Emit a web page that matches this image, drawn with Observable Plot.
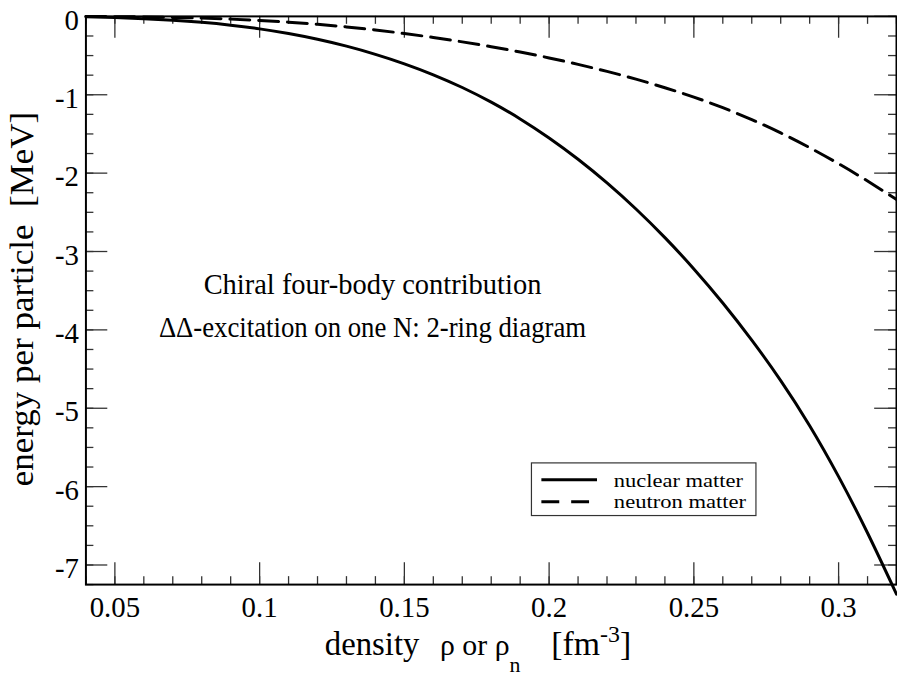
<!DOCTYPE html>
<html><head><meta charset="utf-8">
<script src="https://cdn.jsdelivr.net/npm/d3@7"></script>
<script src="https://cdn.jsdelivr.net/npm/@observablehq/plot@0.6"></script>
<style>
html,body{margin:0;padding:0;overflow:hidden;background:#fff;}
#chart svg text{white-space:pre;}
</style></head><body><div id="chart"></div>
<script>
// ---- data ----
const density = [0.04,0.05,0.06,0.07,0.08,0.09,0.10,0.11,0.12,0.13,0.14,0.15,0.16,0.17,0.18,0.19,0.20,0.21,0.22,0.23,0.24,0.25,0.26,0.27,0.28,0.29,0.30,0.31,0.32];
const nuclearMatter = [-0.005,-0.015,-0.029,-0.049,-0.076,-0.112,-0.159,-0.219,-0.292,-0.380,-0.484,-0.605,-0.745,-0.907,-1.094,-1.308,-1.551,-1.823,-2.125,-2.458,-2.823,-3.222,-3.657,-4.131,-4.647,-5.222,-5.872,-6.592,-7.372];
const neutronMatter = [-0.001,-0.003,-0.007,-0.013,-0.022,-0.035,-0.052,-0.074,-0.101,-0.134,-0.173,-0.219,-0.269,-0.325,-0.387,-0.455,-0.530,-0.612,-0.702,-0.801,-0.910,-1.030,-1.165,-1.317,-1.487,-1.675,-1.880,-2.101,-2.337];
const seriesNames = ["nuclear matter","neutron matter"];
const xMajorTicks = [0.05,0.1,0.15,0.2,0.25,0.3];
const xTickLabels = ["0.05","0.1","0.15","0.2","0.25","0.3"];
const xMinorTicks = [0.04,0.05,0.06,0.07,0.08,0.09,0.10,0.11,0.12,0.13,0.14,0.15,0.16,0.17,0.18,0.19,0.20,0.21,0.22,0.23,0.24,0.25,0.26,0.27,0.28,0.29,0.30,0.31,0.32];
const yMajorTicks = [0,-1,-2,-3,-4,-5,-6,-7];
const yTickLabels = ["0","-1","-2","-3","-4","-5","-6","-7"];
const yMinorTicks = [0,-0.25,-0.5,-0.75,-1,-1.25,-1.5,-1.75,-2,-2.25,-2.5,-2.75,-3,-3.25,-3.5,-3.75,-4,-4.25,-4.5,-4.75,-5,-5.25,-5.5,-5.75,-6,-6.25,-6.5,-6.75,-7,-7.25];

const nuclear = density.map((x,i)=>({x, y: nuclearMatter[i]}));
const neutron = density.map((x,i)=>({x, y: neutronMatter[i]}));
const xLab = new Map(xMajorTicks.map((d,i)=>[d,xTickLabels[i]]));
const yLab = new Map(yMajorTicks.map((d,i)=>[d,yTickLabels[i]]));

const W=903, H=679, mL=86, mR=1, mT=16, mB=91;
const pw = W-mL-mR, ph = H-mT-mB;
const font = "'Liberation Serif', 'Times New Roman', Times, serif";
const tick = {stroke:"#333", strokeOpacity:1, strokeWidth:1.3};

const chart = Plot.plot({
  width: W, height: H,
  marginLeft: mL, marginRight: mR, marginTop: mT, marginBottom: mB,
  style: `background:white;color:black;overflow:visible;`,
  x: {domain: [0.04, 0.32]},
  y: {domain: [-7.25, 0]},
  marks: [
    Plot.gridX(xMinorTicks, {...tick, insetTop: ph-8}),
    Plot.gridX(xMinorTicks, {...tick, insetBottom: ph-8}),
    Plot.gridX(xMajorTicks, {...tick, insetTop: ph-22}),
    Plot.gridX(xMajorTicks, {...tick, insetBottom: ph-22}),
    Plot.gridY(yMinorTicks, {...tick, insetLeft: pw-8}),
    Plot.gridY(yMinorTicks, {...tick, insetRight: pw-8}),
    Plot.gridY(yMajorTicks, {...tick, insetLeft: pw-22}),
    Plot.gridY(yMajorTicks, {...tick, insetRight: pw-22}),
    Plot.axisX(xMajorTicks, {tickSize:0, tickPadding:12, fontSize:29, tickFormat: d=>xLab.get(d), label:null}),
    Plot.axisY(yMajorTicks, {tickSize:0, tickPadding:7, fontSize:29, dy:4, tickFormat: d=>yLab.get(d), label:null}),
    Plot.line(nuclear, {x:"x", y:"y", stroke:"black", strokeWidth:3, curve:"natural"}),
    Plot.line(neutron, {x:"x", y:"y", stroke:"black", strokeWidth:3, strokeDasharray:"20,9", curve:"natural"}),
    Plot.frame({stroke:"black", strokeWidth:2})
  ]
});
document.getElementById("chart").appendChild(chart);

const svg = d3.select(chart);
const g = svg.append("g").attr("fill","black").attr("text-anchor","start");

// annotation
g.append("text").attr("x",205).attr("y",296).attr("font-size",29)
  .attr("textLength",340).attr("lengthAdjust","spacingAndGlyphs").text("Chiral four-body contribution");
g.append("text").attr("x",160).attr("y",339).attr("font-size",29)
  .attr("textLength",430).attr("lengthAdjust","spacingAndGlyphs").text("ΔΔ-excitation on one N: 2-ring diagram");

// legend
g.append("rect").attr("x",535).attr("y",466).attr("width",226).attr("height",53).attr("fill","white").attr("stroke","#333").attr("stroke-width",1.2);
g.append("line").attr("x1",545).attr("x2",601).attr("y1",483).attr("y2",483).attr("stroke","black").attr("stroke-width",3);
g.append("line").attr("x1",545).attr("x2",601).attr("y1",505).attr("y2",505).attr("stroke","black").attr("stroke-width",3).attr("stroke-dasharray","18,12");
g.append("text").attr("x",618).attr("y",490).attr("font-size",18)
  .attr("textLength",130).attr("lengthAdjust","spacingAndGlyphs").text(seriesNames[0]);
g.append("text").attr("x",618).attr("y",511).attr("font-size",18)
  .attr("textLength",133).attr("lengthAdjust","spacingAndGlyphs").text(seriesNames[1]);

// x axis label
const xl = g.append("text").attr("y",659).attr("font-size",34);
xl.append("tspan").attr("x",327).attr("font-size",33).text("density");
xl.append("tspan").attr("x",443).attr("font-size",30).text("ρ or ρ");
xl.append("tspan").attr("font-size",22).attr("dy",18).text("n");
xl.append("tspan").attr("x",555).attr("dy",-18).text("[fm");
xl.append("tspan").attr("font-size",24).attr("dy",-13).text("-3");
xl.append("tspan").attr("dy",13).text("]");

// y axis label
g.append("text").attr("transform","translate(33,301) rotate(-90)").attr("text-anchor","middle").attr("font-size",33)
  .attr("textLength",377).attr("lengthAdjust","spacingAndGlyphs").text("energy per particle  [MeV]");

// force the serif face on every text of the figure
svg.selectAll("text").style("font-family", font);
</script></body></html>
